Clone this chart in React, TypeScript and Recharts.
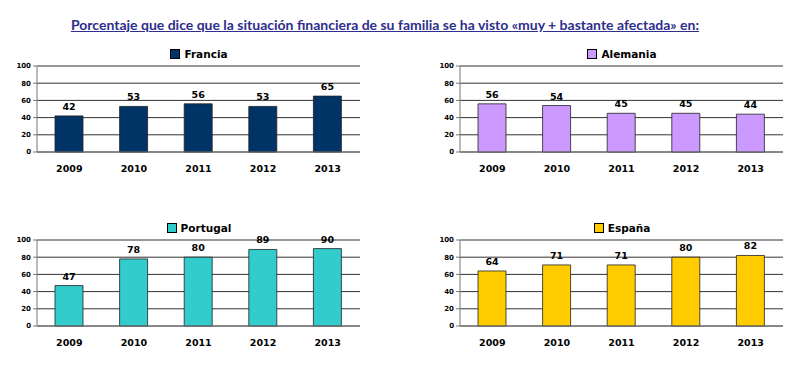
import React from "react";
import { BarChart, Bar, XAxis, YAxis, CartesianGrid, LabelList } from "recharts";

const years = ["2009", "2010", "2011", "2012", "2013"];
const francia = [42, 53, 56, 53, 65];
const alemania = [56, 54, 45, 45, 44];
const portugal = [47, 78, 80, 89, 90];
const espana = [64, 71, 71, 80, 82];
const yTicks = [0, 20, 40, 60, 80, 100];
const boundaryTicks = [0, 1, 2, 3, 4, 5];
const titleText =
  "Porcentaje que dice que la situación financiera de su familia se ha visto «muy + bastante afectada» en:";

const FONT = "'DejaVu Sans', Verdana, sans-serif";

type PanelProps = {
  name: string;
  values: number[];
  color: string;
  left: number;
  top: number;
};

function Panel({ name, values, color, left, top }: PanelProps) {
  const data = years.map((y, i) => ({ year: y, value: values[i] }));
  return (
    <div style={{ position: "absolute", left, top, width: 381, height: 142 }}>
      <div
        style={{
          position: "absolute",
          left: 0,
          width: 398,
          top: 7,
          textAlign: "center",
          fontFamily: FONT,
          fontWeight: "bold",
          fontSize: 10.5,
          color: "#000",
          lineHeight: "14px",
        }}
      >
        <span
          style={{
            display: "inline-block",
            width: 8,
            height: 8,
            background: color,
            border: "1px solid #000",
            marginRight: 4,
            verticalAlign: "-1px",
          }}
        />
        {name}
      </div>
      <BarChart
        width={381}
        height={142}
        data={data}
        margin={{ top: 26, right: 21, bottom: 0, left: 0 }}
        barSize={28}
      >
        <CartesianGrid vertical={false} stroke="#333" />
        <XAxis
          xAxisId="b"
          type="number"
          domain={[0, 5]}
          ticks={boundaryTicks}
          tick={false}
          tickSize={4}
          axisLine={false}
          tickLine={{ stroke: "#777" }}
          height={1}
          allowDataOverflow
        />
        <XAxis
          dataKey="year"
          height={29}
          tickLine={false}
          tickSize={0}
          tickMargin={13}
          axisLine={{ stroke: "#777" }}
          tick={{ fontFamily: FONT, fontWeight: "bold", fontSize: 9.5, fill: "#000" }}
          interval={0}
        />
        <YAxis
          width={37}
          domain={[0, 100]}
          ticks={yTicks}
          interval={0}
          tickSize={4}
          tickMargin={2}
          axisLine={{ stroke: "#777" }}
          tickLine={{ stroke: "#777" }}
          tick={{ fontFamily: FONT, fontWeight: "bold", fontSize: 7, fill: "#000" }}
        />
        <Bar dataKey="value" fill={color} stroke="#222" strokeWidth={0.8} isAnimationActive={false}>
          <LabelList
            dataKey="value"
            position="top"
            offset={6}
            style={{ fontFamily: FONT, fontWeight: "bold", fontSize: 9.5, fill: "#000" }}
          />
        </Bar>
      </BarChart>
    </div>
  );
}

export default function App() {
  return (
    <div
      style={{
        position: "absolute",
        left: 0,
        top: 0,
        width: 797,
        height: 387,
        background: "#fff",
        overflow: "hidden",
      }}
    >
      <div
        style={{
          position: "absolute",
          left: 0,
          top: 16,
          width: 770,
          textAlign: "center",
          fontFamily: "Lato, 'Liberation Sans', sans-serif",
          fontWeight: "bold",
          fontSize: 14,
          color: "#2E2E8C",
          textDecoration: "underline",
          lineHeight: "18px",
        }}
      >
        {titleText}
      </div>
      <Panel name="Francia" values={francia} color="#003366" left={0} top={40} />
      <Panel name="Alemania" values={alemania} color="#CC99FF" left={423} top={40} />
      <Panel name="Portugal" values={portugal} color="#33CCCC" left={0} top={214} />
      <Panel name="España" values={espana} color="#FFCC00" left={423} top={214} />
    </div>
  );
}
